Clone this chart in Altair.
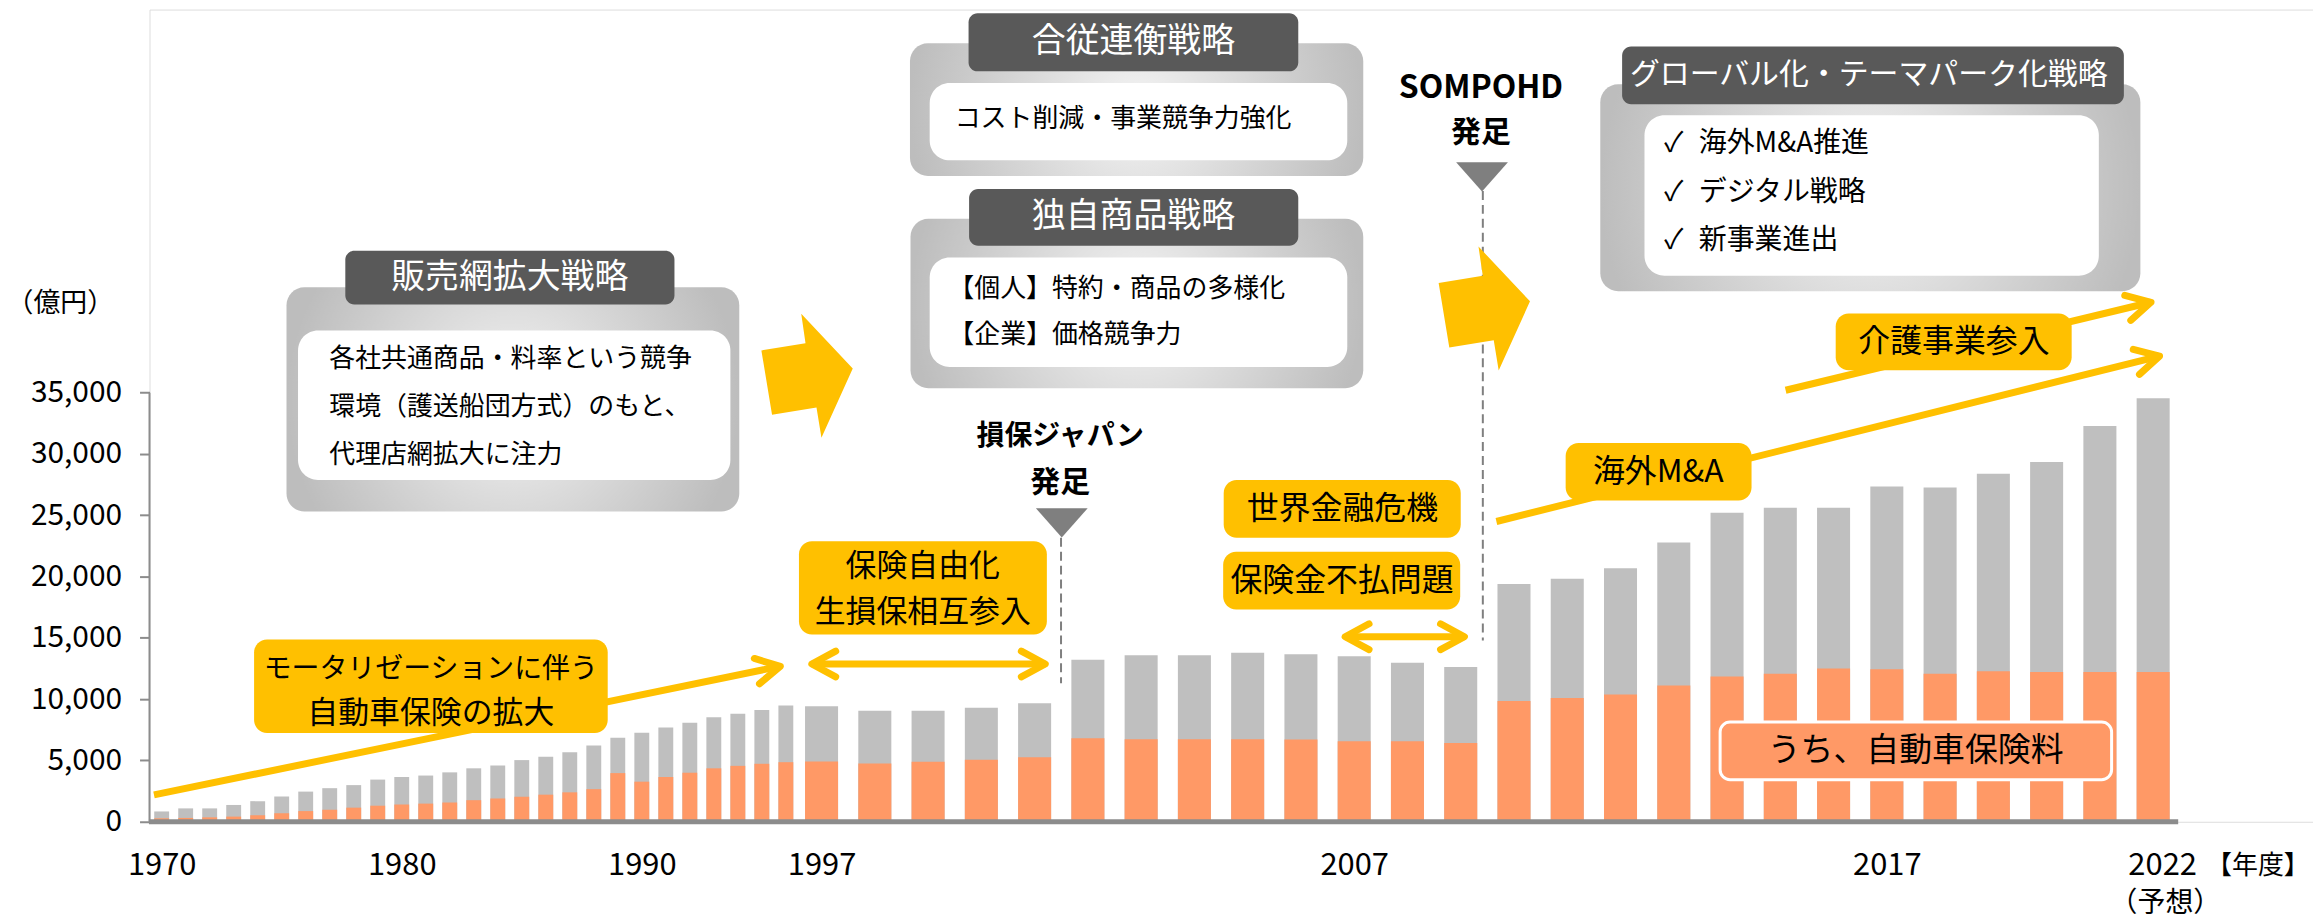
import altair as alt
import pandas as pd

FONT = "Noto Sans CJK JP"
YELLOW = "#FFC000"
ORANGE = "#FF9966"
GRAY_BAR = "#BFBFBF"
AXIS_GRAY = "#8C8C8C"
DARK = "#595959"

# ---------------- data ----------------
years = list(range(1970, 2023))
total_premium = [840, 1090, 1090, 1370, 1680, 2070, 2460, 2740, 2990, 3440,
                 3660, 3770, 4030, 4360, 4590, 5030, 5310, 5680, 6230, 6850,
                 7270, 7690, 8080, 8530, 8810, 9110, 9480, 9420, 9060, 9060,
                 9310, 9670, 13220, 13590, 13590, 13780, 13670, 13500, 12970, 12620,
                 19390, 19830, 20690, 22780, 25200, 25610, 25610, 27350, 27260, 28390,
                 29360, 32280, 34550]
auto_premium = [280, 310, 360, 420, 530, 700, 870, 980, 1150, 1310,
                1400, 1480, 1570, 1760, 1900, 2040, 2210, 2400, 2660, 3970,
                3270, 3660, 4000, 4360, 4560, 4730, 4860, 4920, 4750, 4890,
                5060, 5260, 6820, 6740, 6740, 6740, 6710, 6570, 6570, 6430,
                9860, 10090, 10390, 11120, 11860, 12070, 12510, 12450, 12070, 12280,
                12220, 12220, 12220]
x_tick_years = [1970, 1980, 1990, 1997, 2007, 2017, 2022]
y_ticks = [0, 5000, 10000, 15000, 20000, 25000, 30000, 35000]

bars = pd.DataFrame({"year": years, "total": total_premium, "auto": auto_premium})

# ---------------- scales / axes ----------------
XS = alt.Scale(domain=[1970, 1996.6, 2022], range=[12.2, 653.0, 2010.6], nice=False, zero=False)
YS = alt.Scale(domain=[0, 66260], nice=False, zero=False)

XAX = alt.Axis(values=x_tick_years, title=None, format="d", domain=False, ticks=False, tickSize=0,
               grid=False, labelFont=FONT, labelFontSize=31, labelColor="#000000",
               labelPadding=44, labelBaseline="middle", labelFlush=False, labelOverlap=False,
               labelOffset={"condition": {"test": "datum.value == 2022", "value": 9}, "value": 0})
YAX = alt.Axis(values=y_ticks, format=",.0f", domain=False, ticks=True, tickSize=10, tickWidth=2,
               tickColor=AXIS_GRAY, grid=False, labelFont=FONT, labelFontSize=30,
               labelColor="#000000", labelPadding=18, labelBaseline="middle",
               title="（億円）", titleAngle=0, titleX=-90, titleY=295, titleAlign="center",
               titleBaseline="middle", titleFont=FONT, titleFontSize=27,
               titleFontWeight="normal", titleColor="#000000")


def ex(f):
    return alt.X(f, type="quantitative", scale=XS, axis=XAX)


def ey(f):
    return alt.Y(f, type="quantitative", scale=YS, axis=YAX)


# ---------------- bars ----------------
bar_base = alt.Chart(bars).transform_calculate(x0="datum.year - 0.31", x1="datum.year + 0.31")
gray_bars = bar_base.mark_rect(color=GRAY_BAR).encode(x=ex("x0"), x2="x1", y=ey("total"), y2=alt.datum(0))
auto_bars = bar_base.mark_rect(color=ORANGE).encode(x=ex("x0"), x2="x1", y=ey("auto"), y2=alt.datum(0))

# axis lines
xline = alt.Chart(pd.DataFrame({"x0": [1969.47], "x1": [2022.47], "y": [0]})).mark_rule(
    color=AXIS_GRAY, strokeWidth=5).encode(x=ex("x0"), x2="x1", y=ey("y"))
yline = alt.Chart(pd.DataFrame({"y0": [0], "y1": [35000]})).mark_rule(
    color=AXIS_GRAY, strokeWidth=2).encode(x=alt.value(0), y=ey("y0"), y2="y1")

# ---------------- annotation geometry (data units: year, 億円) ----------------
dashed = pd.DataFrame({"x": [2001.496, 2009.415], "y0": [23171, 51463], "y1": [11301, 14797]})
dash_rules = alt.Chart(dashed).mark_rule(color="#7F7F7F", strokeWidth=2, strokeDash=[9, 5]).encode(
    x=ex("x"), y=ey("y0"), y2="y1")

arrow_lines = pd.DataFrame({
    "x0": [1969.68, 1996.817, 2006.83, 2009.67, 2015.10],
    "y0": [2195, 12870, 15097, 24496, 35203],
    "x1": [1995.77, 2001.20, 2009.07, 2022.12, 2021.96],
    "y1": [12683, 12870, 15097, 37991, 42382],
})
yellow_lines = alt.Chart(arrow_lines).mark_rule(color=YELLOW, strokeWidth=7).encode(
    x=ex("x0"), y=ey("y0"), x2="x1", y2="y1")

gray_boxes = pd.DataFrame({
    "x0": [1975.20, 1998.66, 1998.67, 2011.62],
    "x1": [1994.06, 2007.17, 2007.17, 2021.76],
    "y0": [43601, 63520, 49187, 60162],
    "y1": [25309, 52682, 35366, 43276],
})
header_boxes = pd.DataFrame({
    "x0": [1977.65, 1999.76, 1999.77, 2012.03],
    "x1": [1991.36, 2005.95, 2005.95, 2021.45],
    "y0": [46585, 65959, 51626, 63251],
    "y1": [42195, 61219, 46991, 58536],
})
white_boxes = pd.DataFrame({
    "x0": [1975.68, 1999.03, 1999.03, 2012.45],
    "x1": [1993.69, 2006.87, 2006.87, 2020.98],
    "y0": [40081, 60268, 46040, 57642],
    "y1": [27886, 53959, 37097, 44552],
})
yellow_boxes = pd.DataFrame({
    "x0": [1973.85, 1996.546, 2004.55, 2004.54, 2010.97, 2016.04],
    "x1": [1988.58, 2001.23, 2009.00, 2008.99, 2014.46, 2020.47],
    "y0": [14878, 22878, 27886, 22032, 30894, 41463],
    "y1": [7236, 15284, 23171, 17317, 26203, 36829],
})
orange_box = pd.DataFrame({"x0": [2013.87], "x1": [2021.22], "y0": [8130], "y1": [3431]})

radial = {"gradient": "radial",
          "stops": [{"offset": 0, "color": "#F4F4F4"}, {"offset": 1, "color": "#BDBDBD"}]}


def box_layer(df, **kw):
    return alt.Chart(df).mark_rect(**kw).encode(x=ex("x0"), x2="x1", y=ey("y0"), y2="y1")


l_gray = box_layer(gray_boxes, color=radial, cornerRadius=18)
l_head = box_layer(header_boxes, color=DARK, cornerRadius=9)
l_white = box_layer(white_boxes, color="#FFFFFF", cornerRadius=20)
l_yellow = box_layer(yellow_boxes, color=YELLOW, cornerRadius=13)
l_orange = box_layer(orange_box, fill=ORANGE, stroke="#FFFFFF", strokeWidth=3, cornerRadius=10)

# ---------------- texts ----------------
center_texts = pd.DataFrame([
    (1984.50, 44390, "販売網拡大戦略", 34, "#FFFFFF"),
    (2002.855, 63589, "合従連衡戦略", 34, "#FFFFFF"),
    (2002.855, 49308, "独自商品戦略", 34, "#FFFFFF"),
    (2016.66, 60894, "グローバル化・テーマパーク化戦略", 30, "#FFFFFF"),
    (1981.21, 12398, "モータリゼーションに伴う", 28, "#000000"),
    (1981.21, 8764, "自動車保険の拡大", 31, "#000000"),
    (1998.90, 20813, "保険自由化", 31, "#000000"),
    (1998.90, 17008, "生損保相互参入", 31, "#000000"),
    (2006.78, 25528, "世界金融危機", 32, "#000000"),
    (2006.77, 19675, "保険金不払問題", 32, "#000000"),
    (2012.71, 28548, "海外M&A", 32, "#000000"),
    (2018.26, 39146, "介護事業参入", 32, "#000000"),
    (2017.54, 5780, "うち、自動車保険料", 33, "#000000"),
    (2022.23, -6700, "（予想）", 28, "#000000"),
], columns=["x", "y", "t", "s", "c"])
left_texts = pd.DataFrame([
    (1976.98, 37780, "各社共通商品・料率という競争", 26),
    (1976.98, 33845, "環境（護送船団方式）のもと、", 26),
    (1976.98, 29918, "代理店網拡大に注力", 26),
    (1999.50, 57292, "コスト削減・事業競争力強化", 26),
    (1999.38, 43471, "【個人】特約・商品の多様化", 26),
    (1999.38, 39674, "【企業】価格競争力", 26),
    (2012.82, 55284, "✓", 28),
    (2012.82, 51325, "✓", 28),
    (2012.82, 47398, "✓", 28),
    (2013.47, 55284, "海外M&A推進", 28),
    (2013.47, 51325, "デジタル戦略", 28),
    (2013.47, 47398, "新事業進出", 28),
], columns=["x", "y", "t", "s"])
right_texts = pd.DataFrame([(2024.94, -3577, "【年度】", 26)], columns=["x", "y", "t", "s"])
bold_texts = pd.DataFrame([
    (2001.48, 31406, "損保ジャパン", 28),
    (2001.48, 27642, "発足", 30),
    (2009.38, 59861, "SOMPOHD", 32),
    (2009.38, 56203, "発足", 30),
], columns=["x", "y", "t", "s"])

l_ctext = alt.Chart(center_texts).mark_text(font=FONT, align="center", baseline="middle").encode(
    x=ex("x"), y=ey("y"), text="t:N", size=alt.Size("s:Q", scale=None), color=alt.Color("c:N", scale=None))
l_ltext = alt.Chart(left_texts).mark_text(font=FONT, align="left", baseline="middle", color="#000000").encode(
    x=ex("x"), y=ey("y"), text="t:N", size=alt.Size("s:Q", scale=None))
l_rtext = alt.Chart(right_texts).mark_text(font=FONT, align="right", baseline="middle", color="#000000").encode(
    x=ex("x"), y=ey("y"), text="t:N", size=alt.Size("s:Q", scale=None))
l_btext = alt.Chart(bold_texts).mark_text(font=FONT, fontWeight="bold", align="center", baseline="middle",
                                          color="#000000").encode(
    x=ex("x"), y=ey("y"), text="t:N", size=alt.Size("s:Q", scale=None))

# ---------------- symbols ----------------
ARROW_PATH = ("M -0.737 -0.41 L -0.025 -0.527 L -0.094 -1 L 0.737 -0.116 "
              "L 0.232 1 L 0.152 0.511 L -0.565 0.63 Z")
TRI_PATH = "M -1 -0.566 L 1 -0.566 L 0 0.566 Z"
CHEVRON_PATH = "M -1 -0.54 L 0 0 L -1 0.54"

big_arrows = pd.DataFrame({"x": [1996.728, 2009.443], "y": [36382, 41870]})
triangles = pd.DataFrame({"x": [2001.51, 2009.40], "y": [24390, 52613]})
chevrons = pd.DataFrame({
    "x": [1995.77, 1996.817, 2001.20, 2006.83, 2009.07, 2022.12, 2021.96],
    "y": [12683, 12870, 12870, 15097, 15097, 37991, 42382],
    "a": [348.4, 180, 0, 180, 0, 346, 346.5],
})

l_big = alt.Chart(big_arrows).mark_point(shape=ARROW_PATH, size=15475, filled=True, color=YELLOW,
                                         opacity=1, strokeWidth=0).encode(x=ex("x"), y=ey("y"))
l_tri = alt.Chart(triangles).mark_point(shape=TRI_PATH, size=2700, filled=True, color="#7F7F7F",
                                        opacity=1, strokeWidth=0).encode(x=ex("x"), y=ey("y"))
l_chev = alt.Chart(chevrons).mark_point(shape=CHEVRON_PATH, size=2304, filled=False, color=YELLOW,
                                        opacity=1, strokeWidth=7, strokeCap="round",
                                        strokeJoin="round").encode(
    x=ex("x"), y=ey("y"), angle=alt.Angle("a:Q", scale=None))

chart = alt.layer(
    gray_bars, auto_bars, xline, yline, dash_rules, yellow_lines,
    l_gray, l_head, l_white, l_yellow, l_orange,
    l_ctext, l_ltext, l_rtext, l_btext,
    l_big, l_tri, l_chev,
).properties(
    width=2171, height=815,
    autosize=alt.AutoSizeParams(type="none"),
    padding={"left": 142, "top": 0, "right": 0, "bottom": 96},
).configure_view(stroke=None).configure(background="white")

chart.save("out.html", embed_options={"renderer": "svg", "actions": False})
